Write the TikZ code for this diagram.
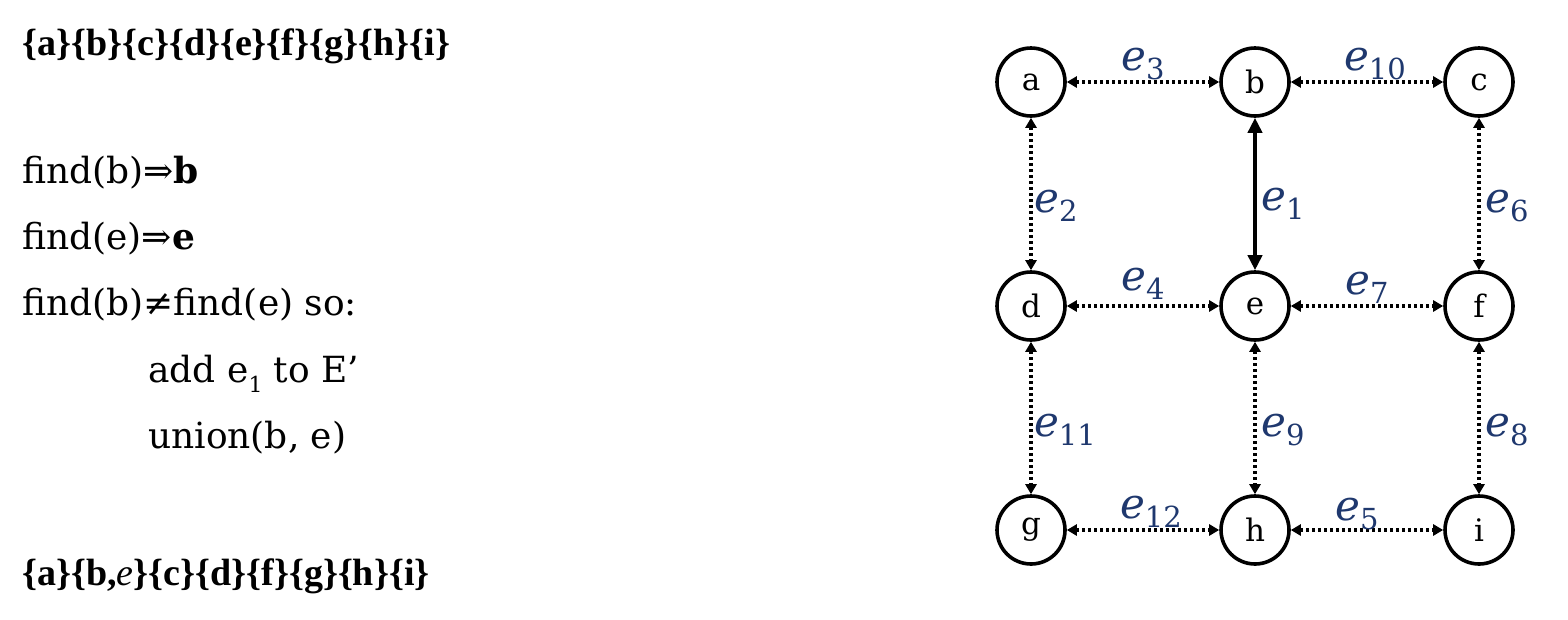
\documentclass[tikz,border=0pt]{standalone}
\usepackage{fontspec}
\setmainfont{DejaVu Serif}
\newfontfamily\setfont{Liberation Serif}
\usetikzlibrary{arrows.meta}
\definecolor{lblue}{RGB}{31,56,110}
\newcommand{\elab}[1]{\textit{e}\raisebox{-0.22em}{\fontsize{29}{30}\selectfont #1}}
\begin{document}
\begin{tikzpicture}[x=1pt,y=-1pt,
  vert/.style={circle,draw,line width=3.6pt,minimum size=68pt,inner sep=0pt,font=\fontsize{31}{34}\selectfont},
  dotedge/.style={line width=3.1pt,dash pattern=on 3pt off 3pt,{Triangle[length=10pt,width=11pt]}-{Triangle[length=10pt,width=11pt]}},
  boldedge/.style={line width=4.8pt,{Triangle[length=15pt,width=14pt]}-{Triangle[length=15pt,width=14pt]}},
  lbl/.style={text=lblue,font=\fontsize{42}{44}\selectfont,inner sep=0pt},
  txt/.style={anchor=base west,inner sep=0pt,font=\fontsize{36}{40}\selectfont},
  btxt/.style={anchor=base west,inner sep=0pt,font=\setfont\fontsize{38}{42}\selectfont}]
\useasboundingbox (0,0) rectangle (1568,619);
% left text
\node[btxt] (t1) at (22,55) {\bfseries\{a\}\{b\}\{c\}\{d\}\{e\}\{f\}\{g\}\{h\}\{i\}};
\node[txt] (t2) at (22,183) {find(b)⇒\textbf{b}};
\node[txt] (t3) at (22,249) {find(e)⇒\textbf{e}};
\node[txt] (t4) at (22,315) {find(b)≠find(e) so:};
\node[txt] (t5) at (148,382) {add e\raisebox{-0.3em}{\fontsize{22}{24}\selectfont 1} to E’};
\node[txt] (t6) at (148,448) {union(b, e)};
\node[btxt] (t7) at (22,585) {\textbf{\{a\}\{b,}\textit{e}\textbf{\}\{c\}\{d\}\{f\}\{g\}\{h\}\{i\}}};
% vertices
\node[vert] (a) at (1031,82) {a};
\node[vert] (b) at (1255,82) {b};
\node[vert] (c) at (1479,82) {c};
\node[vert] (d) at (1031,306) {d};
\node[vert] (e) at (1255,306) {e};
\node[vert] (f) at (1479,306) {f};
\node[vert] (g) at (1031,530) {g};
\node[vert] (h) at (1255,530) {h};
\node[vert] (i) at (1479,530) {i};
% edges
\draw[dotedge] (a) -- (b);
\draw[dotedge] (b) -- (c);
\draw[dotedge] (d) -- (e);
\draw[dotedge] (e) -- (f);
\draw[dotedge] (g) -- (h);
\draw[dotedge] (h) -- (i);
\draw[dotedge] (a) -- (d);
\draw[boldedge] (b) -- (e);
\draw[dotedge] (c) -- (f);
\draw[dotedge] (d) -- (g);
\draw[dotedge] (e) -- (h);
\draw[dotedge] (f) -- (i);
% labels
\node[lbl] (l3) at (1143,64) {\elab{3}};
\node[lbl] (l10) at (1375,64) {\elab{10}};
\node[lbl] (l4) at (1143,284) {\elab{4}};
\node[lbl] (l7) at (1367,288) {\elab{7}};
\node[lbl] (l12) at (1151,512) {\elab{12}};
\node[lbl] (l5) at (1357,514) {\elab{5}};
\node[lbl] (l2) at (1056,206) {\elab{2}};
\node[lbl] (l1) at (1283,204) {\elab{1}};
\node[lbl] (l6) at (1507,206) {\elab{6}};
\node[lbl] (l11) at (1065,430) {\elab{11}};
\node[lbl] (l9) at (1283,430) {\elab{9}};
\node[lbl] (l8) at (1507,430) {\elab{8}};
\end{tikzpicture}
\end{document}
